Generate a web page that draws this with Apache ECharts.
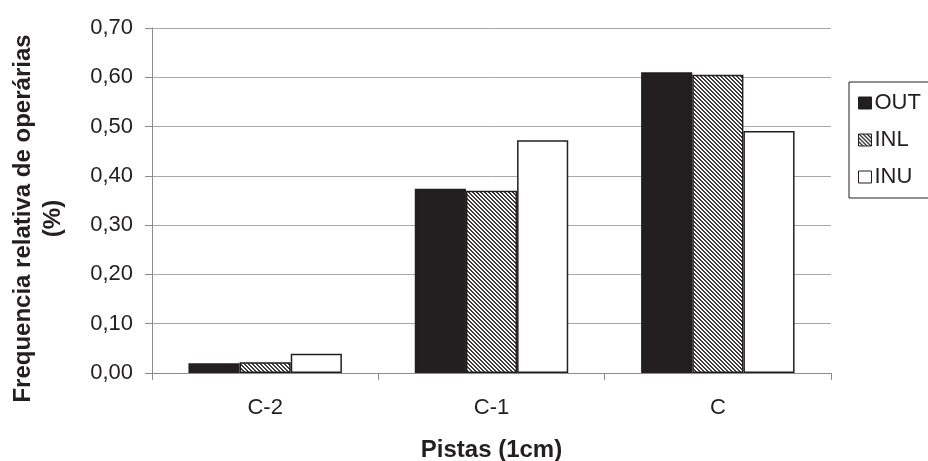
<!DOCTYPE html>
<html>
<head>
<meta charset="utf-8">
<script src="https://cdn.jsdelivr.net/npm/echarts@6/dist/echarts.min.js"></script>
<style>
  html, body { margin: 0; padding: 0; background: #fff; }
  #chart { width: 928px; height: 461px; }
</style>
</head>
<body>
<div id="chart"></div>
<script>
// Lanes (1 cm) and relative frequency of workers per group
const categories = ['C-2', 'C-1', 'C'];
const seriesNames = ['OUT', 'INL', 'INU'];
const outValues = [0.020, 0.374, 0.610];
const inlValues = [0.022, 0.370, 0.605];
const inuValues = [0.039, 0.472, 0.491];
const yTicks = [0, 0.1, 0.2, 0.3, 0.4, 0.5, 0.6, 0.7];

// Diagonal hatch tile for the INL bars
function makeHatch() {
  const size = 8;
  const c = document.createElement('canvas');
  c.width = size; c.height = size;
  const ctx = c.getContext('2d');
  const img = ctx.createImageData(size, size);
  for (let y = 0; y < size; y++) {
    for (let x = 0; x < size; x++) {
      const k = ((x - y) % 4 + 4) % 4;
      const v = k < 2 ? 60 : 255;
      const i = (y * size + x) * 4;
      img.data[i] = v; img.data[i + 1] = v; img.data[i + 2] = v; img.data[i + 3] = 255;
    }
  }
  ctx.putImageData(img, 0, 0);
  return c;
}
const hatch = makeHatch();

const font = 'Liberation Sans, Arial, sans-serif';
const ink = '#231f20';
const chart = echarts.init(document.getElementById('chart'), null, { renderer: 'canvas' });

const barStyle = { borderColor: ink, borderWidth: 1.5 };

chart.setOption({
  animation: false,
  backgroundColor: '#fff',
  textStyle: { fontFamily: font, color: ink },
  grid: { left: 152, right: 97, top: 28, bottom: 88, containLabel: false, outerBoundsMode: 'none' },
  legend: {
    orient: 'vertical',
    left: 849,
    top: 82,
    padding: [10, 40, 10, 9],
    itemGap: 15,
    itemWidth: 13,
    itemHeight: 12,
    borderColor: ink,
    borderWidth: 1,
    icon: 'rect',
    itemStyle: { borderColor: ink, borderWidth: 1 },
    textStyle: { fontSize: 22, fontFamily: font, color: ink, padding: [0, 0, 0, -2] },
    data: seriesNames
  },
  xAxis: {
    type: 'category',
    data: categories,
    name: 'Pistas (1cm)',
    nameLocation: 'middle',
    nameGap: 65,
    nameTextStyle: { fontSize: 24, fontWeight: 'bold', fontFamily: font, color: ink },
    axisLine: { lineStyle: { color: '#8c8c8c', width: 1 } },
    axisTick: { show: true, length: 7, lineStyle: { color: '#8c8c8c' } },
    axisLabel: { fontSize: 22, margin: 24, color: ink, fontFamily: font }
  },
  yAxis: {
    type: 'value',
    min: 0,
    max: 0.7,
    interval: 0.1,
    name: 'Frequencia relativa de operárias\n(%)',
    nameLocation: 'middle',
    nameRotate: 90,
    nameGap: 84,
    nameTextStyle: {
      fontSize: 24, fontWeight: 'bold', fontFamily: font, color: ink,
      lineHeight: 30, align: 'center', padding: [0, 36, 0, 0]
    },
    axisLine: { show: true, lineStyle: { color: '#8c8c8c', width: 1 } },
    axisTick: { show: true, length: 7, lineStyle: { color: '#8c8c8c' } },
    splitLine: { lineStyle: { color: '#a8a8a8', width: 1 } },
    axisLabel: {
      fontSize: 22, margin: 19, color: ink, fontFamily: font,
      formatter: v => yTicks.some(t => Math.abs(t - v) < 1e-9) ? v.toFixed(2).replace('.', ',') : ''
    }
  },
  series: [
    {
      name: 'OUT', type: 'bar', data: outValues,
      barWidth: '22.6%', barGap: '0%',
      itemStyle: Object.assign({ color: ink }, barStyle)
    },
    {
      name: 'INL', type: 'bar', data: inlValues,
      barWidth: '22.6%', barGap: '0%',
      itemStyle: Object.assign({ color: { image: hatch, repeat: 'repeat' } }, barStyle)
    },
    {
      name: 'INU', type: 'bar', data: inuValues,
      barWidth: '22.6%', barGap: '0%',
      itemStyle: Object.assign({ color: '#ffffff' }, barStyle)
    }
  ]
});
</script>
</body>
</html>
